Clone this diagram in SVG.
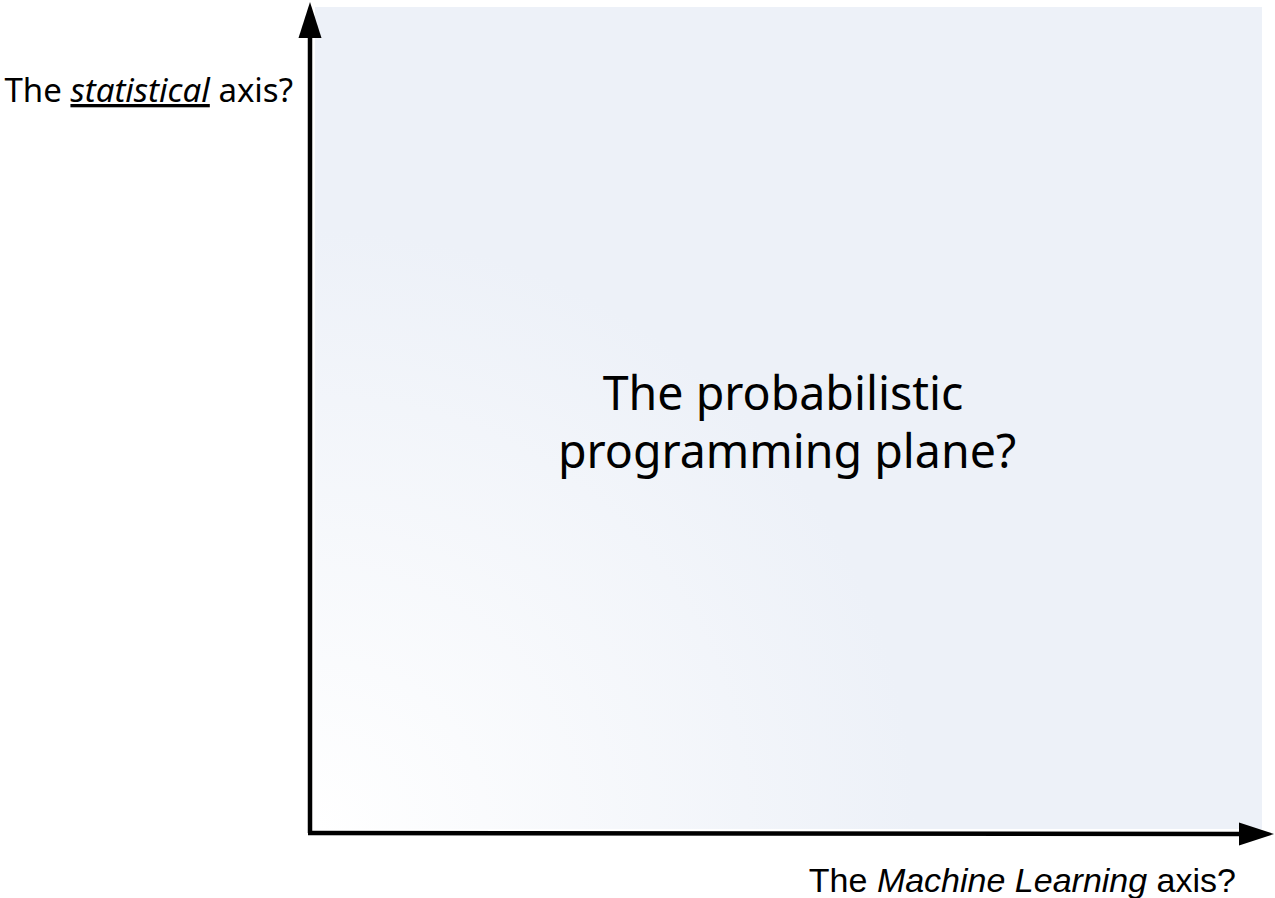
<svg xmlns="http://www.w3.org/2000/svg" width="1275" height="898" viewBox="0 0 1275 898">
  <style>
    .ub { font-family: "Noto Sans", "Open Sans", sans-serif; fill: #000; }
    .ar { font-family: "Liberation Sans", Arial, sans-serif; fill: #000; }
    .axis { stroke: #000; stroke-width: 4.5; fill: none; }
  </style>
  <defs>
    <radialGradient id="bg" gradientUnits="userSpaceOnUse" cx="315" cy="830" r="600">
      <stop offset="0" stop-color="#ffffff"/>
      <stop offset="1" stop-color="#edf1f8"/>
    </radialGradient>
  </defs>
  <rect width="1275" height="898" fill="#ffffff"/>
  <g id="plane">
    <rect x="315" y="7" width="947" height="822" fill="url(#bg)"/>
  </g>
  <g id="connectors">
    <line class="axis" x1="310" y1="833" x2="310" y2="36"/>
    <polygon points="310,2 321.5,38 298.5,38" fill="#000"/>
    <line class="axis" x1="308" y1="833" x2="1240" y2="834"/>
    <polygon points="1274,834 1239,822.5 1239,845.5" fill="#000"/>
  </g>
  <g id="y-label">
    <text class="ub" x="293" y="102" font-size="33" text-anchor="end">The <tspan font-style="italic" text-decoration="underline">statistical</tspan> axis?</text>
  </g>
  <g id="x-label">
    <text class="ar" x="1236" y="892" font-size="34" text-anchor="end">The <tspan font-style="italic">Machine Learning</tspan> axis?</text>
  </g>
  <g id="center-label">
    <text class="ub" font-size="46.5" text-anchor="middle"><tspan x="783" y="410">The probabilistic</tspan><tspan x="787" y="468">programming plane?</tspan></text>
  </g>
</svg>
